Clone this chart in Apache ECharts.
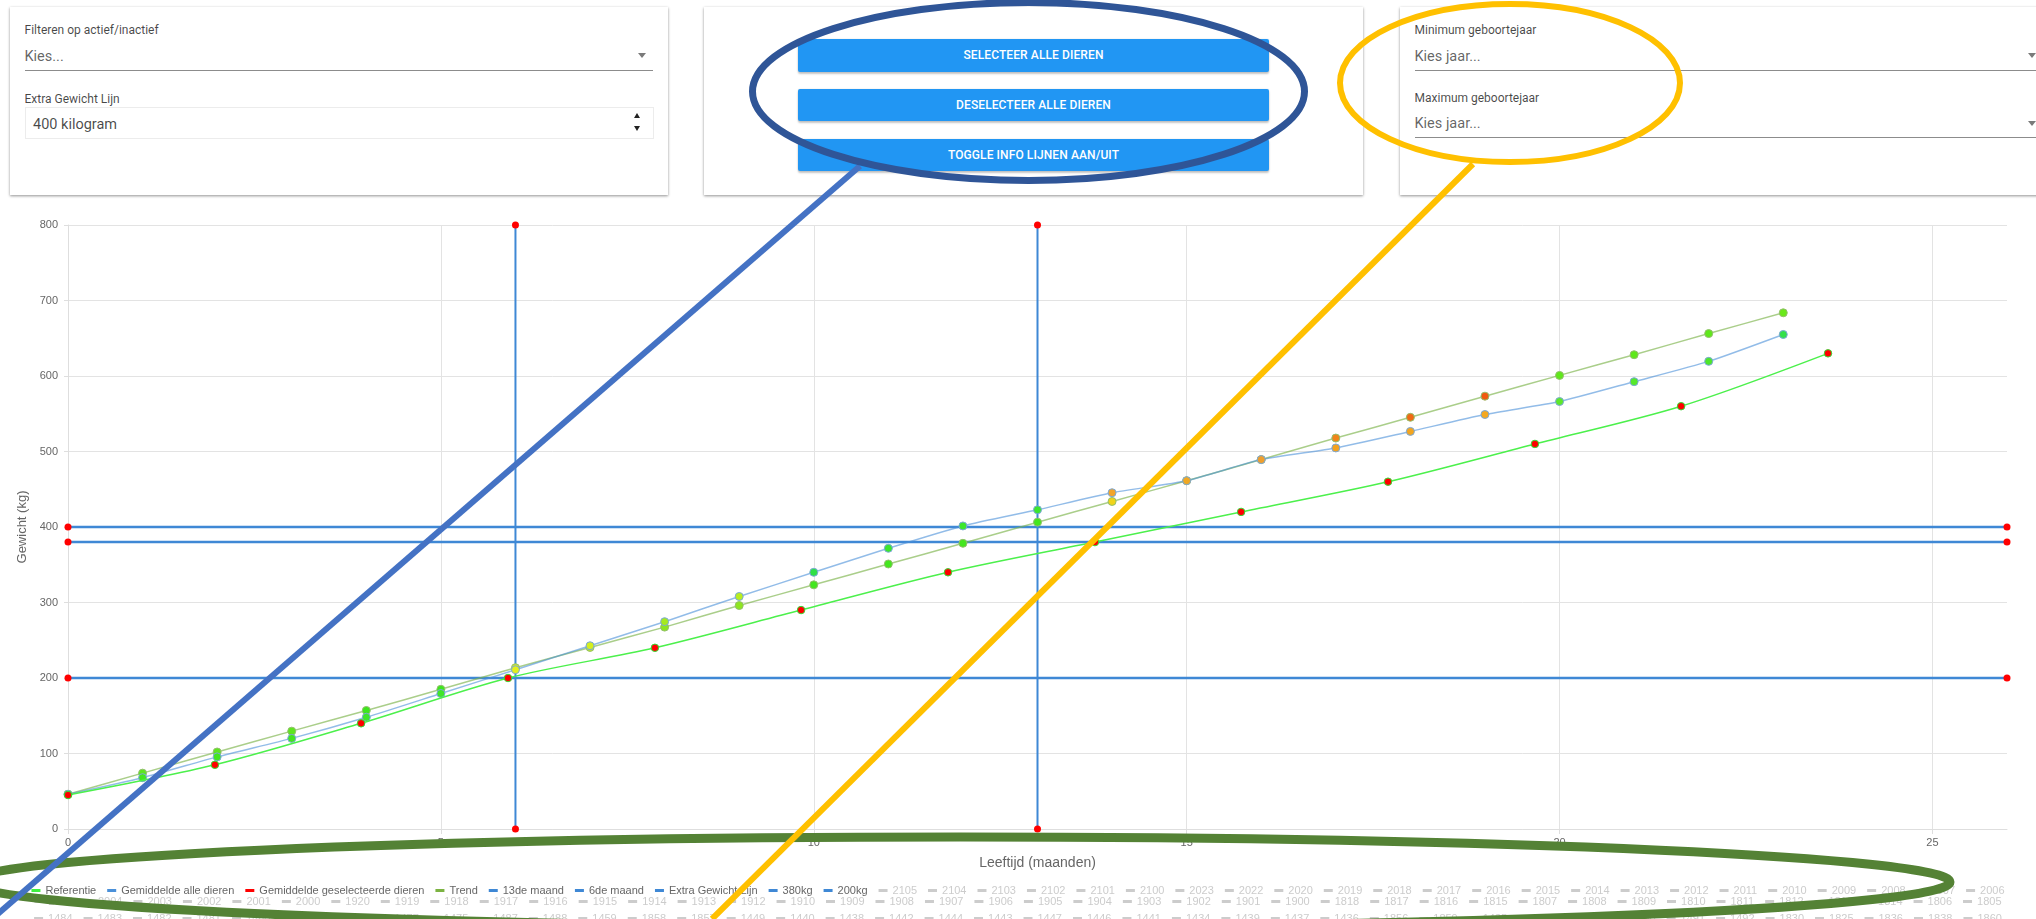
<!DOCTYPE html>
<html>
<head>
<meta charset="utf-8">
<script src="https://cdn.jsdelivr.net/npm/echarts/dist/echarts.min.js"></script>
<style>
html,body{margin:0;padding:0;width:2036px;height:919px;overflow:hidden;background:#fff;font-family:Roboto,'Noto Sans',sans-serif;}
.panel{position:absolute;top:7px;height:188px;background:#fff;box-shadow:0 1px 3px rgba(0,0,0,0.28),0 1px 2px rgba(0,0,0,0.18);}
.lbl{position:absolute;font-size:12px;line-height:14px;color:rgba(0,0,0,0.72);white-space:nowrap;}
.val{position:absolute;font-size:14.5px;line-height:17px;color:rgba(0,0,0,0.62);white-space:nowrap;}
.uline{position:absolute;height:1px;background:#8c8c8c;}
.arrow{position:absolute;width:0;height:0;border-left:4px solid transparent;border-right:4px solid transparent;border-top:5px solid #7a7a7a;}
.up{position:absolute;width:0;height:0;border-left:3.5px solid transparent;border-right:3.5px solid transparent;border-bottom:5px solid #222;}
.down{position:absolute;width:0;height:0;border-left:3.5px solid transparent;border-right:3.5px solid transparent;border-top:5px solid #222;}
.btn{position:absolute;left:94px;width:471px;height:33px;background:#2196F3;color:#fff;font-size:12px;font-weight:500;line-height:33px;text-align:center;box-shadow:0 2px 2px rgba(0,0,0,0.22),0 0 2px rgba(0,0,0,0.12);border-radius:2px;letter-spacing:0.1px;}
#chart{position:absolute;left:0;top:0;width:2036px;height:919px;z-index:5;}
</style>
</head>
<body>
<div class="panel" style="left:10px;width:658px;">
  <div class="lbl" style="left:14.5px;top:16px;">Filteren op actief/inactief</div>
  <div class="val" style="left:14.5px;top:40.5px;">Kies...</div>
  <div class="arrow" style="left:628px;top:46px;"></div>
  <div class="uline" style="left:14.5px;top:63px;width:628px;"></div>
  <div class="lbl" style="left:14.5px;top:85px;">Extra Gewicht Lijn</div>
  <div style="position:absolute;left:14.5px;top:100px;width:627px;height:30px;border:1px solid #ececec;"></div>
  <div class="val" style="left:23px;top:108.5px;color:rgba(0,0,0,0.72);">400 kilogram</div>
  <div class="up" style="left:624px;top:106px;"></div>
  <div class="down" style="left:624px;top:119px;"></div>
</div>
<div class="panel" style="left:704px;width:659px;">
  <div class="btn" style="top:32px;">SELECTEER ALLE DIEREN</div>
  <div class="btn" style="top:82px;height:32px;line-height:32px;">DESELECTEER ALLE DIEREN</div>
  <div class="btn" style="top:132px;height:32px;line-height:32px;">TOGGLE INFO LIJNEN AAN/UIT</div>
</div>
<div class="panel" style="left:1400px;width:700px;">
  <div class="lbl" style="left:14.5px;top:16px;">Minimum geboortejaar</div>
  <div class="val" style="left:14.5px;top:40.5px;">Kies jaar...</div>
  <div class="arrow" style="left:628px;top:46px;"></div>
  <div class="uline" style="left:14.5px;top:63px;width:700px;"></div>
  <div class="lbl" style="left:14.5px;top:84px;">Maximum geboortejaar</div>
  <div class="val" style="left:14.5px;top:107.5px;">Kies jaar...</div>
  <div class="arrow" style="left:628px;top:114px;"></div>
  <div class="uline" style="left:14.5px;top:130px;width:700px;"></div>
</div>
<div id="chart"></div>
<script>
// ---- data ----
const months = [0,1,2,3,4,5,6,7,8,9,10,11,12,13,14,15,16,17,18,19,20,21,22,23];
const gemAlleKg = [46,68,95.5,120,148,179.5,211,242.7,274.6,308,340,371.8,401.4,422.8,445.4,461.3,489.3,504.7,526.6,549,566.2,592.5,619.4,655];
const trendKg = [46,74,102,129.6,157,185,213.6,240.5,267.4,296,323.4,351,378.4,406.4,433.8,461.3,489.3,517.8,545.3,573.3,600.8,628.2,656.2,683.7];
const refMonths = [0,1.97,3.93,5.9,7.87,9.83,11.8,13.77,15.73,17.7,19.67,21.63,23.6];
const refKg = [45,85,140,200,240,290,340,380,420,460,510,560,630];
const selectedMonths = [];
const selectedKg = [];
const verticalLineNames = ['13de maand','6de maand'];
const verticalLineMonths = [13,6];
const horizontalLineNames = ['Extra Gewicht Lijn','380kg','200kg'];
const horizontalLineKg = [400,380,200];
const xRange = [0,26];
const yRange = [0,800];
const xTickStep = 5;
const yTickStep = 100;
const mainNames = ['Referentie','Gemiddelde alle dieren','Gemiddelde geselecteerde dieren','Trend'];
const animalsRow1 = ['2105','2104','2103','2102','2101','2100','2023','2022','2020','2019','2018','2017','2016','2015','2014','2013','2012','2011','2010','2009','2008','2007','2006'];
const animalsRow2 = ['2005','2004','2003','2002','2001','2000','1920','1919','1918','1917','1916','1915','1914','1913','1912','1910','1909','1908','1907','1906','1905','1904','1903','1902','1901','1900','1818','1817','1816','1815','1807','1808','1809','1810','1811','1812','1813','1814','1806','1805'];
const animalsRow3 = ['1484','1483','1482','1481','1480','1479','1478','1477','1475','1487','1488','1459','1858','1857','1449','1440','1438','1442','1444','1443','1447','1446','1441','1434','1439','1437','1436','1856','1859','1435','1433','1489','1490','1491','1492','1830','1825','1836','1838','1860'];

// ---- styles (marker colours per point) ----
const gemAlleMarkerColors = ['#44e61e','#44e61e','#44e61e','#44e61e','#3fe62a','#3fe62a','#e2f01e','#d4ee1f','#a6ea1f','#b8ee1f','#2fe045','#3ce62d','#3ce62d','#3ce62d','#f2a52a','#f0a823','#ee9f2e','#f3a21f','#f3a51f','#f5a81f','#5ee82a','#55e82a','#4ee62a','#33e04a'];
const trendMarkerColors = ['#44e61e','#5de61f','#5de61f','#5de61f','#3ee61e','#3ee61e','#d8ee1f','#c8ec1f','#8ee61f','#8ee61f','#44e61e','#44e61e','#44e61e','#44e61e','#f0d41a','#f0a020','#f09a1a','#f0851a','#f06a14','#f05a10','#5fe81a','#5fe81a','#5fe81a','#6ae81a'];
const infoBlue = '#3f88d5';

const chart = echarts.init(document.getElementById('chart'), null, {renderer:'canvas'});

const series = [];
verticalLineNames.forEach((n,i)=>{
  series.push({name:n,type:'line',symbol:'circle',symbolSize:7,z:2,
    lineStyle:{color:infoBlue,width:2},itemStyle:{color:infoBlue},
    data:[[verticalLineMonths[i],yRange[0]],[verticalLineMonths[i],yRange[1]]].map(v=>({value:v,itemStyle:{color:'#ff0000'}}))});
});
horizontalLineNames.forEach((n,i)=>{
  series.push({name:n,type:'line',symbol:'circle',symbolSize:7,z:2,
    lineStyle:{color:infoBlue,width:2.5},itemStyle:{color:infoBlue},
    data:[[xRange[0],horizontalLineKg[i]],[xRange[1],horizontalLineKg[i]]].map(v=>({value:v,itemStyle:{color:'#ff0000'}}))});
});
series.push({name:'Trend',type:'line',smooth:0.2,symbol:'circle',symbolSize:8,z:3,
  lineStyle:{color:'rgba(125,180,75,0.65)',width:1.5},
  itemStyle:{color:'#7cb342',borderColor:'#93bf6c',borderWidth:1},
  data:months.map((m,i)=>({value:[m,trendKg[i]],itemStyle:{color:trendMarkerColors[i]}}))});
series.push({name:'Gemiddelde alle dieren',type:'line',smooth:0.2,symbol:'circle',symbolSize:8,z:4,
  lineStyle:{color:'rgba(74,144,217,0.6)',width:1.5},
  itemStyle:{color:'#4a90d9',borderColor:'#7aa8d8',borderWidth:1},
  data:months.map((m,i)=>({value:[m,gemAlleKg[i]],itemStyle:{color:gemAlleMarkerColors[i]}}))});
series.push({name:'Gemiddelde geselecteerde dieren',type:'line',symbol:'circle',symbolSize:7,z:5,
  lineStyle:{color:'#ff0000',width:1.5},itemStyle:{color:'#ff0000'},
  data:selectedMonths.map((m,i)=>[m,selectedKg[i]])});
series.push({name:'Referentie',type:'line',smooth:0.3,symbol:'circle',symbolSize:7.5,z:6,
  lineStyle:{color:'#4cf04c',width:1.5},
  itemStyle:{color:'#3ef03e',borderColor:'#33dd33',borderWidth:1},
  data:refMonths.map((m,i)=>({value:[m,refKg[i]],itemStyle:{color:'#ff0000'}}))});
const allAnimals = animalsRow1.concat(animalsRow2,animalsRow3);
allAnimals.forEach(n=>series.push({name:n,type:'line',data:[],itemStyle:{color:'#999'}}));

const selected = {};
allAnimals.forEach(n=>selected[n]=false);

function legendRow(data, top){
  return {data:data,top:top,left:'center',orient:'horizontal',padding:0,
    icon:'rect',itemWidth:9,itemHeight:3,itemGap:11,
    itemStyle:{borderWidth:0},lineStyle:{width:0},
    textStyle:{fontSize:11,color:'#666',fontFamily:'Liberation Sans, Arial, sans-serif',padding:0},
    inactiveColor:'#cccccc',selected:selected,selectedMode:true};
}
const row1 = mainNames.concat(verticalLineNames,horizontalLineNames,animalsRow1);

chart.setOption({
  animation:false,
  textStyle:{fontFamily:'Liberation Sans, Arial, sans-serif'},
  grid:{left:68,right:29,top:225,bottom:90,containLabel:false},
  xAxis:{type:'value',min:xRange[0],max:xRange[1],interval:xTickStep,
    name:'Leeftijd (maanden)',nameLocation:'middle',nameGap:27,
    nameTextStyle:{fontSize:14,color:'#666'},
    axisLabel:{fontSize:11,color:'#666',margin:8,showMaxLabel:false},
    axisLine:{lineStyle:{color:'#dedede'}},
    axisTick:{show:true,length:5,lineStyle:{color:'#dedede'}},
    splitLine:{show:true,showMaxLine:false,lineStyle:{color:'#e3e3e3'}}},
  yAxis:{type:'value',min:yRange[0],max:yRange[1],interval:yTickStep,
    name:'Gewicht (kg)',nameLocation:'middle',nameGap:38,nameRotate:90,
    nameTextStyle:{fontSize:13,color:'#666'},
    axisLabel:{fontSize:11,color:'#666',margin:10},
    axisLine:{show:true,lineStyle:{color:'#dedede'}},
    axisTick:{show:true,length:4,lineStyle:{color:'#dedede'}},
    splitLine:{show:true,lineStyle:{color:'#e3e3e3'}}},
  legend:[legendRow(row1,885),legendRow(animalsRow2,896),legendRow(animalsRow3,913)],
  series:series,
  graphic:[
    {type:'ellipse',z:100,z2:1,silent:true,shape:{cx:960,cy:882,rx:990,ry:45},style:{fill:'none',stroke:'#548235',lineWidth:9}},
    {type:'line',z:100,z2:2,silent:true,shape:{x1:860,y1:166,x2:-8,y2:919},style:{stroke:'#4472C4',lineWidth:6}},
    {type:'line',z:100,z2:3,silent:true,shape:{x1:1473,y1:164,x2:712,y2:919},style:{stroke:'#FFC000',lineWidth:6}},
    {type:'ellipse',z:100,z2:4,silent:true,shape:{cx:1028.5,cy:91.5,rx:276,ry:89},style:{fill:'none',stroke:'#2F5597',lineWidth:7}},
    {type:'ellipse',z:100,z2:5,silent:true,shape:{cx:1510,cy:83,rx:170,ry:79},style:{fill:'none',stroke:'#FFC000',lineWidth:6}}
  ]
});
</script>
</body>
</html>
